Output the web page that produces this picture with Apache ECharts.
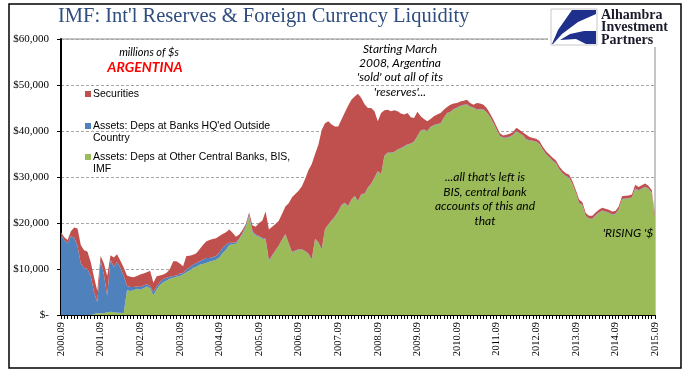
<!DOCTYPE html>
<html>
<head>
<meta charset="utf-8">
<script src="https://cdn.jsdelivr.net/npm/echarts@6/dist/echarts.min.js"></script>
<style>html,body{margin:0;padding:0;background:#fff;}#c{width:696px;height:381px;}</style>
</head>
<body>
<div id="c"></div>
<script>
// Monthly categories 2000.09 .. 2015.09
const startYear = 2000, startMonth = 9, monthCount = 181;
const months = [];
for (let k = 0; k < monthCount; k++) {
  const m = startMonth - 1 + k;
  const y = startYear + Math.floor(m / 12);
  const mm = (m % 12) + 1;
  months.push(y + '.' + (mm < 10 ? '0' + mm : mm));
}
const yTicks = [0, 10000, 20000, 30000, 40000, 50000, 60000];

// Assets: Deps at Other Central Banks, BIS, IMF (millions $)
const depsOtherCB = [
  0,0,0,0,0,0,0,0,0,0,
  200,400,400,400,600,700,600,500,500,400,
  5400,5200,5400,5700,5500,5800,6200,5800,4300,5600,
  6500,7100,7500,7900,8100,8300,8500,8800,9300,9700,
  10200,10500,10900,11100,11300,11600,11800,12000,12500,13500,
  14200,15200,15400,15500,16400,17600,19000,21400,18000,17300,
  17000,16600,16400,11700,12800,14000,15000,16300,17500,15500,
  13600,13900,14200,14200,13800,13200,12000,16500,15700,14200,
  18600,19600,20500,21300,22400,23800,24300,23600,25000,25800,
  24700,26200,26300,27600,28500,29800,31200,30500,34500,35200,
  35200,35400,35900,36200,36600,37000,37200,37600,38800,40000,
  40200,39900,40800,41200,41400,41600,42800,43800,44100,44700,
  45000,45400,45600,45700,45200,45000,44600,44700,44600,44000,
  43000,41700,40200,38800,38500,38500,38700,39100,39900,39400,
  39000,38100,37900,37800,37600,37100,35900,34900,34200,33500,
  32900,31600,30700,30100,29800,28400,26500,24300,23800,21500,
  20900,20800,21600,22200,22600,22400,22200,21800,21900,22900,
  25100,25200,25300,25500,27400,27000,27400,27800,27400,26500,
  21200
];
// Assets: Deps at Banks HQ'ed Outside Country (millions $)
const depsBanksOutside = [
  17500,16300,15600,17200,16800,15000,11200,10200,10000,8500,
  4800,2400,11400,8400,3600,11300,9900,11100,9700,8100,
  900,900,700,500,600,600,500,500,700,600,
  700,700,600,400,400,300,500,300,600,700,
  700,800,800,900,1100,800,800,800,1100,1100,
  1100,500,300,300,200,300,400,400,300,200,
  200,200,200,200,200,100,100,100,100,100,
  100,100,100,100,100,100,100,100,100,100,
  100,100,100,100,100,100,100,100,100,100,
  100,100,100,100,100,100,100,100,100,100,
  100,100,100,100,100,100,100,100,100,100,
  100,100,100,100,100,100,100,100,100,100,
  100,100,100,100,100,100,100,100,100,100,
  100,100,100,100,100,100,100,100,100,100,
  100,100,100,100,100,100,100,100,100,100,
  100,100,100,100,100,100,100,100,100,100,
  100,100,100,100,100,100,100,100,100,100,
  100,100,100,100,100,100,100,100,100,100,
  100
];
// Securities (millions $)
const securities = [
  500,600,700,1000,2200,3800,4000,3900,3800,3000,
  3200,2400,1000,2400,4300,1000,2000,1600,1600,1800,
  2300,2200,2100,2300,2700,2600,2600,3300,2000,2200,
  1400,1000,1100,1700,3200,3100,2200,1500,2900,2500,
  2200,2100,2600,3200,3600,3900,3900,3900,3600,3000,
  2700,2900,2200,1200,900,600,400,500,1200,1700,
  2800,3700,5900,6700,6200,5700,5400,5600,6000,8700,
  11900,12300,12700,13700,15700,18200,20700,18400,21200,25900,
  23000,22400,20800,19600,18500,18600,19600,21800,21700,21600,
  23300,20900,19400,17300,16400,14400,10800,13300,9900,9300,
  9000,9000,8300,7500,6900,6800,5700,5100,5300,3100,
  2300,2100,1700,1900,2100,2200,1700,1300,1500,1200,
  1000,900,900,1000,800,600,1400,1200,1000,900,
  700,700,700,600,400,600,600,600,700,700,
  600,1000,700,600,600,600,600,600,600,600,
  600,600,600,600,600,600,600,700,600,600,
  600,700,600,600,600,600,600,600,600,600,
  600,600,600,600,800,700,700,700,600,600,
  500
];

const C_RED = '#C0504D', C_BLUE = '#4F81BD', C_GREEN = '#9BBB59';
const serif = '"Liberation Serif", "Times New Roman", serif';
const sans = '"Liberation Sans", Arial, sans-serif';
const italicFont = 'Lato, "Open Sans", sans-serif';

const chart = echarts.init(document.getElementById('c'), null, {renderer: 'canvas'});

function area(name, data, color) {
  return {
    name: name, type: 'line', stack: 'total', data: data,
    symbol: 'none', showSymbol: false, smooth: false,
    lineStyle: {width: 0}, areaStyle: {color: color, opacity: 1},
    itemStyle: {color: color}, emphasis: {disabled: true}, animation: false
  };
}

chart.setOption({
  animation: false,
  backgroundColor: '#fff',
  grid: {left: 61, right: 41, top: 39, bottom: 66, show: true, borderColor: '#8c8c8c', borderWidth: 1, backgroundColor: 'transparent'},
  xAxis: {
    type: 'category', data: months, boundaryGap: false,
    axisLine: {lineStyle: {color: '#000', width: 1}},
    axisTick: {show: true, interval: 0, length: 4, lineStyle: {color: '#000'}},
    axisLabel: {interval: 11, rotate: 90, margin: 7, fontFamily: serif, fontSize: 10.5, color: '#000'},
    splitLine: {show: false}
  },
  yAxis: {
    type: 'value', min: yTicks[0], max: yTicks[yTicks.length - 1], interval: 10000,
    axisLine: {show: true, lineStyle: {color: '#000', width: 2}},
    axisTick: {show: true, length: 4, lineStyle: {color: '#000'}},
    axisLabel: {
      margin: 12, fontFamily: serif, fontSize: 11, color: '#000',
      formatter: function (v) { return v === 0 ? '$-' : '$' + v.toLocaleString('en-US'); }
    },
    splitLine: {show: true, lineStyle: {color: '#a6a6a6', type: [3, 2], width: 1}}
  },
  series: [
    area('Assets: Deps at Other Central Banks, BIS, IMF', depsOtherCB, C_GREEN),
    area("Assets: Deps at Banks HQ'ed Outside Country", depsBanksOutside, C_BLUE),
    area('Securities', securities, C_RED)
  ],
  graphic: [
    {type: 'rect', shape: {x: 9, y: 4, width: 672, height: 364}, style: {fill: 'none', stroke: '#000', lineWidth: 1.5}, z: 100},
    {type: 'text', left: 58, top: 6, style: {text: "IMF: Int'l Reserves & Foreign Currency Liquidity", font: '20.5px ' + serif, fill: '#2F4D7E'}, z: 100},
    // logo
    {type: 'rect', shape: {x: 548, y: 6, width: 132, height: 41}, style: {fill: '#fff'}, z: 100},
    {type: 'rect', shape: {x: 551, y: 9, width: 46, height: 36}, style: {fill: '#fff', stroke: '#c8c8c8', lineWidth: 1}, z: 101},
    {type: 'polygon', shape: {points: [[572, 10], [596, 10], [596, 14], [578, 22], [562, 34], [553, 44], [552, 44], [558, 30]]}, style: {fill: '#1F2F8C'}, z: 102},
    {type: 'polygon', shape: {points: [[560, 40], [570, 34], [584, 31], [596, 31], [596, 44], [586, 44], [576, 39]]}, style: {fill: '#1F2F8C'}, z: 102},
    {type: 'text', left: 601, top: 8, style: {text: 'Alhambra\nInvestment\nPartners', font: 'bold 14px ' + serif, lineHeight: 12.5, fill: '#1a1a2a'}, z: 102},
    // annotations
    {type: 'text', x: 149, y: 52, style: {text: 'millions of $s', font: 'italic 11px ' + italicFont, fill: '#000', align: 'center', verticalAlign: 'middle'}, z: 100},
    {type: 'text', x: 145, y: 67, style: {text: 'ARGENTINA', font: 'italic bold 14px ' + italicFont, fill: '#FF0000', align: 'center', verticalAlign: 'middle'}, z: 100},
    {type: 'text', x: 400, y: 42, style: {text: "Starting March\n2008, Argentina\n'sold' out all of its\n'reserves'...", font: 'italic 12px ' + italicFont, lineHeight: 14.2, fill: '#000', align: 'center', verticalAlign: 'top'}, z: 100},
    {type: 'text', x: 485, y: 170, style: {text: "...all that's left is\nBIS, central bank\naccounts of this and\nthat", font: 'italic 12px ' + italicFont, lineHeight: 14.5, fill: '#000', align: 'center', verticalAlign: 'top'}, z: 100},
    {type: 'text', x: 628, y: 233, style: {text: "'RISING '$", font: 'italic 12px ' + italicFont, fill: '#000', align: 'center', verticalAlign: 'middle'}, z: 100},
    // legend
    {type: 'rect', shape: {x: 85, y: 91, width: 6, height: 6}, style: {fill: C_RED}, z: 100},
    {type: 'text', left: 93, top: 88, style: {text: 'Securities', font: '10.5px ' + sans, fill: '#000', lineHeight: 12}, z: 100},
    {type: 'rect', shape: {x: 85, y: 123, width: 6, height: 6}, style: {fill: C_BLUE}, z: 100},
    {type: 'text', left: 93, top: 120, style: {text: "Assets: Deps at Banks HQ'ed Outside\nCountry", font: '10.5px ' + sans, fill: '#000', lineHeight: 12}, z: 100},
    {type: 'rect', shape: {x: 85, y: 154, width: 6, height: 6}, style: {fill: C_GREEN}, z: 100},
    {type: 'text', left: 93, top: 151, style: {text: 'Assets: Deps at Other Central Banks, BIS,\nIMF', font: '10.5px ' + sans, fill: '#000', lineHeight: 12}, z: 100}
  ]
});
</script>
</body>
</html>
